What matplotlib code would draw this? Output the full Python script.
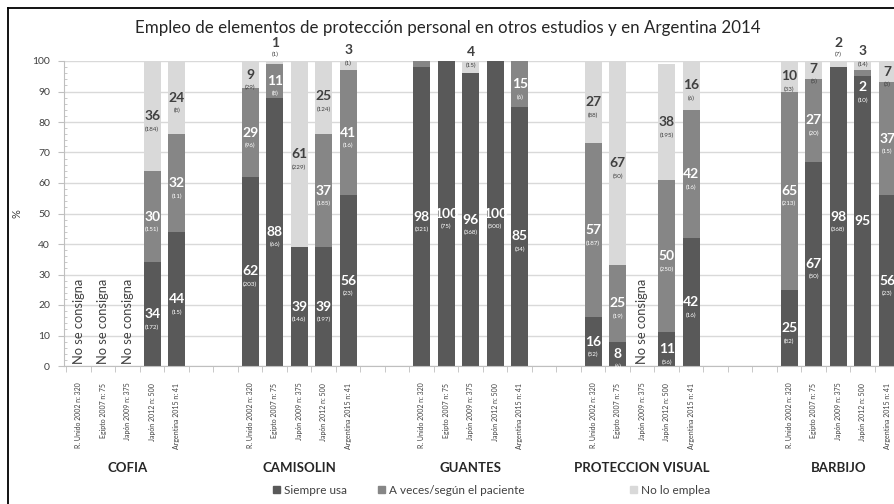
import numpy as np
import matplotlib
matplotlib.use("Agg")
import matplotlib.pyplot as plt
from matplotlib.patches import Rectangle
from matplotlib.lines import Line2D

plt.rcParams['font.family'] = ['Lato', 'DejaVu Sans']

nan = np.nan
title = "Empleo de elementos de protección personal en otros estudios y en Argentina 2014"
groups = ["COFIA", "CAMISOLIN", "GUANTES", "PROTECCION VISUAL", "BARBIJO"]
studies = ["R. Unido 2002 n: 320", "Egipto 2007 n: 75", "Japón 2009 n: 375",
           "Japón 2012 n: 500", "Argentina 2015 n: 41"]
series_names = ["Siempre usa", "A veces/según el paciente", "No lo emplea"]

siempre = [[nan, nan, nan, 34, 44], [62, 88, 39, 39, 56], [98, 100, 96, 100, 85],
           [16, 8, nan, 11, 42], [25, 67, 98, 95, 56]]
siempre_n = [[None, None, None, 172, 15], [203, 66, 146, 197, 23], [321, 75, 368, 500, 34],
             [52, 6, None, 56, 16], [82, 50, 368, None, 23]]
aveces = [[nan, nan, nan, 30, 32], [29, 11, 0, 37, 41], [2, 0, 0, 0, 15],
          [57, 25, nan, 50, 42], [65, 27, 0, 2, 37]]
aveces_n = [[None, None, None, 151, 11], [96, 8, None, 185, 16], [None, None, None, None, 6],
            [187, 19, None, 250, 16], [213, 20, None, 10, 15]]
nolo = [[nan, nan, nan, 36, 24], [9, 1, 61, 25, 3], [0, 0, 4, 0, 0],
        [27, 67, nan, 38, 16], [10, 7, 2, 3, 7]]
nolo_n = [[None, None, None, 184, 8], [29, 1, 229, 124, 1], [None, None, 15, None, None],
          [88, 50, None, 195, 6], [33, 5, 7, 14, 3]]
missing_text = "No se consigna"

# ---- style / layout ----
colors = ["#595959", "#868686", "#d9d9d9"]
txt_colors = ["white", "white", "#404040"]
group_offsets = [0, 7, 14, 21, 29]
bar_w = 0.7
# label positions overridden (group, study, series) -> (number y, count y, color)
special = {(1, 1, 2): (106, 102, "#404040"), (1, 4, 2): (103.6, 99.2, "#404040"),
           (2, 2, 2): (102.8, 98.4, "#404040"), (4, 2, 2): (106, 102, "#404040"),
           (4, 3, 2): (103.2, 99, "#404040"), (4, 3, 1): (91.5, 87.2, "white")}

W, H = 894, 504
fig = plt.figure(figsize=(W / 100, H / 100), dpi=100)
ax_left, ax_bottom, ax_top = 64, 366, 61
slot = 24.5
xmin, xmax = -0.6, 36
ax = fig.add_axes([ax_left / W, (H - ax_bottom) / H, (xmax - xmin) * slot / W,
                   (ax_bottom - ax_top) / H])
ax.set_xlim(xmin, xmax)
ax.set_ylim(0, 100)

all_series = [(siempre, siempre_n), (aveces, aveces_n), (nolo, nolo_n)]
xs_all, lab_all = [], []
for g in range(len(groups)):
    for s in range(len(studies)):
        x = group_offsets[g] + s
        xs_all.append(x)
        lab_all.append(studies[s])
        if np.isnan(siempre[g][s]):
            ax.text(x, 0.8, missing_text, rotation=90, ha='center', va='bottom',
                    fontsize=9.3, color='#404040')
            continue
        bottom = 0
        for k, (vals, cnts) in enumerate(all_series):
            v = vals[g][s]
            if v > 0:
                ax.bar(x, v, bottom=bottom, width=bar_w, color=colors[k],
                       edgecolor='none', zorder=2)
                c = cnts[g][s]
                key = (g, s, k)
                if key in special:
                    ny, cy, col = special[key]
                elif v >= 5:
                    ny = bottom + v / 2
                    cy = ny - 4.3
                    col = txt_colors[k]
                else:
                    ny = None
                if ny is not None:
                    ax.text(x, ny, f"{v:g}", ha='center', va='center', fontsize=10,
                            color=col, fontweight='bold', zorder=4, clip_on=False)
                    if c is not None:
                        ax.text(x, cy, f"({c})", ha='center', va='center',
                                fontsize=4.5, color=col, zorder=4, clip_on=False)
            bottom += v

ax.set_xticks(xs_all)
ax.set_xticklabels(lab_all, rotation=90, fontsize=5, color='#404040')
ax.tick_params(axis='x', length=0, pad=12)
ax.set_xticks([x + 0.5 for x in range(-1, 36)], minor=True)
ax.tick_params(axis='x', which='minor', length=4, color='#bfbfbf', direction='out')

ax.set_yticks(range(0, 101, 10))
ax.set_yticks(range(0, 101, 2), minor=True)
ax.tick_params(axis='y', labelsize=7.5, colors='#404040', length=4, direction='out',
               pad=6)
ax.tick_params(axis='y', which='minor', length=2.5, direction='in', color='#bfbfbf')
ax.tick_params(axis='y', which='major', color='#bfbfbf')
ax.yaxis.grid(True, color='#d9d9d9', lw=1, zorder=0)
ax.set_axisbelow(True)
for sp in ['top', 'right']:
    ax.spines[sp].set_visible(False)
for sp in ['left', 'bottom']:
    ax.spines[sp].set_color('#bfbfbf')
ax.set_ylabel("%", fontsize=8, color='#404040', labelpad=7)

for g, name in enumerate(groups):
    xc = group_offsets[g] + 2
    ax.text(xc, -33.5, name, ha='center', va='center', fontsize=9.5,
            fontweight='bold', color='#262626', clip_on=False)

fig.text(448 / W, 1 - 28 / H, title, ha='center', va='center', fontsize=12.2, color='#262626')

# legend
leg_x = [273, 378, 630]
for k, name in enumerate(series_names):
    fig.patches.append(Rectangle((leg_x[k] / W, 1 - 493 / H), 7 / W, 7 / H,
                                 transform=fig.transFigure, color=colors[k]))
    fig.text((leg_x[k] + 11) / W, 1 - 490 / H, name, ha='left', va='center',
             fontsize=8.5, color='#404040')

# outer frame (cropped screenshot)
fig.add_artist(Line2D([8 / W, 8 / W], [0, 1 - 8 / H], transform=fig.transFigure,
                      color='black', lw=1.3))
fig.add_artist(Line2D([8 / W, 1], [1 - 8 / H, 1 - 8 / H], transform=fig.transFigure,
                      color='black', lw=1.3))

fig.savefig("out.png", dpi=100)
